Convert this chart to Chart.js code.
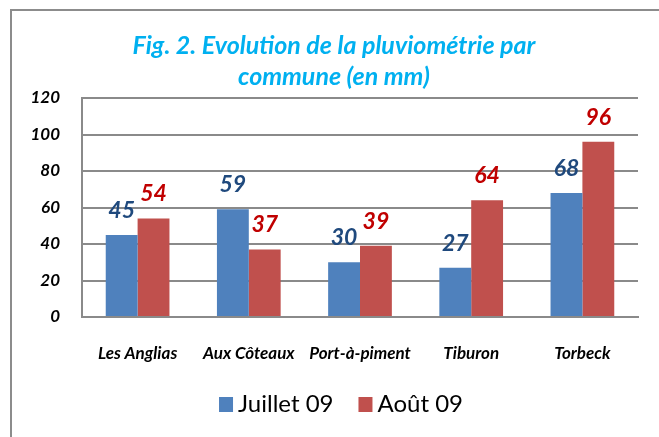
<!DOCTYPE html>
<html>
<head>
<meta charset="utf-8">
<script src="https://cdn.jsdelivr.net/npm/chart.js@4.4.0/dist/chart.umd.min.js"></script>
<style>
  html, body { margin: 0; padding: 0; background: #fff; overflow: hidden; }
  #wrap { width: 659px; height: 437px; }
</style>
</head>
<body>
<div id="wrap"><canvas id="rainChart" width="659" height="437"></canvas></div>
<script>
// data
const communes = ['Les Anglias', 'Aux Côteaux', 'Port-à-piment', 'Tiburon', 'Torbeck'];
const juillet = [45, 59, 30, 27, 68];
const aout = [54, 37, 39, 64, 96];
const seriesNames = ['Juillet 09', 'Août 09'];
const yMin = 0, yMax = 120, yStep = 20;

const FONT = 'Lato, "Open Sans", sans-serif';
const barColors = ['#4F81BD', '#C0504D'];
const labelColors = ['#1F497D', '#C00000'];
const gridColor = '#8a8a8a';

// outer frame + white background
const framePlugin = {
  id: 'frame',
  beforeDraw(chart) {
    const ctx = chart.ctx;
    ctx.save();
    ctx.fillStyle = '#fff';
    ctx.fillRect(0, 0, chart.width, chart.height);
    ctx.strokeStyle = '#8c8c8c';
    ctx.lineWidth = 2;
    ctx.strokeRect(11, 10, chart.width + 20, chart.height + 20);
    ctx.restore();
  }
};

// value labels above each bar
const valueLabels = {
  id: 'valueLabels',
  afterDatasetsDraw(chart) {
    const ctx = chart.ctx;
    ctx.save();
    ctx.font = 'italic bold 23px ' + FONT;
    ctx.textAlign = 'center';
    ctx.textBaseline = 'alphabetic';
    chart.data.datasets.forEach((ds, i) => {
      ctx.fillStyle = labelColors[i];
      chart.getDatasetMeta(i).data.forEach((bar, j) => {
        ctx.fillText(String(ds.data[j]), bar.x, bar.y - 17);
      });
    });
    ctx.restore();
  }
};

// legend row: small square right next to the text, like the Excel original
const legendRow = {
  id: 'legendRow',
  afterDraw(chart) {
    const ctx = chart.ctx;
    ctx.save();
    ctx.font = '24px ' + FONT;
    ctx.textBaseline = 'alphabetic';
    const box = 14, gapText = 5, gapItem = 25;
    const widths = seriesNames.map(n => ctx.measureText(n).width);
    const total = widths.reduce((a, w) => a + box + gapText + w, 0) + gapItem * (seriesNames.length - 1);
    let x = 341 - total / 2;
    const baseline = 412;
    seriesNames.forEach((name, i) => {
      ctx.fillStyle = barColors[i];
      ctx.fillRect(x, baseline - 15, box, 15);
      x += box + gapText;
      ctx.fillStyle = '#000';
      ctx.fillText(name, x, baseline);
      x += widths[i] + gapItem;
    });
    ctx.restore();
  }
};

const ctx = document.getElementById('rainChart').getContext('2d');
new Chart(ctx, {
  type: 'bar',
  data: {
    labels: communes,
    datasets: [
      { label: seriesNames[0], data: juillet, backgroundColor: barColors[0] },
      { label: seriesNames[1], data: aout, backgroundColor: barColors[1] }
    ]
  },
  options: {
    responsive: false,
    animation: false,
    devicePixelRatio: 1,
    categoryPercentage: 0.573,
    barPercentage: 1,
    layout: { padding: { left: 30, right: 21, top: 0, bottom: 0 } },
    plugins: {
      legend: { display: false },
      tooltip: { enabled: false },
      title: {
        display: true,
        text: ['Fig. 2. Evolution de la pluviométrie par', 'commune (en mm)'],
        color: '#00B0F0',
        font: { family: FONT, size: 25, weight: 'bold', style: 'italic', lineHeight: 31 / 25 },
        padding: { top: 30, bottom: 6 }
      }
    },
    scales: {
      x: {
        grid: { display: false, drawTicks: false },
        border: { display: true, color: gridColor, width: 2 },
        ticks: {
          color: '#000',
          padding: 26,
          maxRotation: 0,
          font: { family: FONT, size: 17, weight: 'bold', style: 'italic' }
        },
        afterFit(scale) { scale.height = 120; }
      },
      y: {
        min: yMin,
        max: yMax,
        grid: { color: gridColor, lineWidth: 2, drawTicks: false },
        border: { display: true, color: gridColor, width: 2 },
        ticks: {
          stepSize: yStep,
          color: '#000',
          padding: 22,
          font: { family: FONT, size: 17, weight: 'bold', style: 'italic' }
        },
        afterFit(scale) { scale.width = 52; }
      }
    }
  },
  plugins: [framePlugin, valueLabels, legendRow]
});
</script>
</body>
</html>
